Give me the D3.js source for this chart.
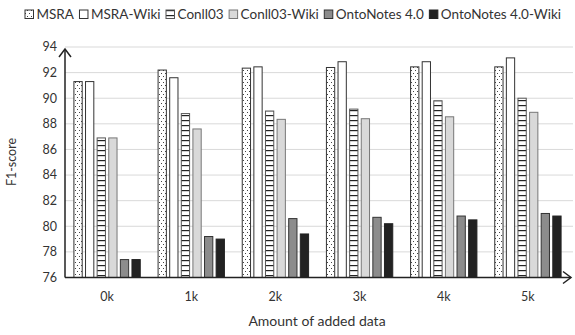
<!DOCTYPE html>
<html><head><meta charset="utf-8">
<script src="https://cdn.jsdelivr.net/npm/d3@7"></script>
<style>body{margin:0;background:#fff}</style>
</head><body><svg id="c" width="575" height="335"></svg>
<script>
const categories = ["0k","1k","2k","3k","4k","5k"];
const seriesNames = ["MSRA","MSRA-Wiki","Conll03","Conll03-Wiki","OntoNotes 4.0","OntoNotes 4.0-Wiki"];
const msra      = [91.3, 92.2, 92.35, 92.4, 92.45, 92.45];
const msraWiki  = [91.3, 91.6, 92.45, 92.85, 92.85, 93.15];
const conll     = [86.9, 88.8, 89.0, 89.15, 89.8, 90.0];
const conllWiki = [86.9, 87.6, 88.35, 88.4, 88.55, 88.9];
const onto      = [77.4, 79.2, 80.6, 80.7, 80.8, 81.0];
const ontoWiki  = [77.4, 79.0, 79.4, 80.2, 80.5, 80.8];
const yTicks = [76,78,80,82,84,86,88,90,92,94];
const seriesValues = [msra, msraWiki, conll, conllWiki, onto, ontoWiki];

const font = "Lato, 'Liberation Sans', Arial, sans-serif";
const svg = d3.select("#c");
const defs = svg.append("defs");
// dotted pattern
const pd = defs.append("pattern").attr("id","dots").attr("patternUnits","userSpaceOnUse").attr("width",4).attr("height",6);
pd.append("rect").attr("width",4).attr("height",6).attr("fill","#fff");
pd.append("rect").attr("x",1).attr("y",1).attr("width",1).attr("height",1).attr("fill","#444");
pd.append("rect").attr("x",3).attr("y",4).attr("width",1).attr("height",1).attr("fill","#444");
// horizontal stripes
const ps = defs.append("pattern").attr("id","hstripe").attr("patternUnits","userSpaceOnUse").attr("width",6).attr("height",5);
ps.append("rect").attr("width",6).attr("height",5).attr("fill","#fff");
ps.append("rect").attr("y",0).attr("width",6).attr("height",1.2).attr("fill","#222");

const fills = ["url(#dots)","#fff","url(#hstripe)","#d9d9d9","#8c8c8c","#222"];
const strokes = ["#333","#333","#555","#777","#333","#222"];

const x0 = d3.scaleBand().domain(categories).range([65,570]).paddingInner(0.2).paddingOuter(0.1);
const x1 = d3.scaleBand().domain(seriesNames).range([0,x0.bandwidth()]).paddingInner(0.2);
const y = d3.scaleLinear().domain([76,94]).range([277.5,47]);

// gridlines
svg.append("g").selectAll("line").data(yTicks.slice(1)).join("line")
  .attr("x1",65).attr("x2",573).attr("y1",d=>y(d)).attr("y2",d=>y(d))
  .attr("stroke","#d9d9d9").attr("stroke-width",1);

// y tick labels
svg.append("g").selectAll("text").data(yTicks).join("text")
  .attr("x",57).attr("y",d=>y(d)).attr("dy","0.35em").attr("text-anchor","end")
  .attr("font-family",font).attr("font-size",12.5).attr("fill","#333").text(d=>d);

// bars
const g = svg.append("g");
categories.forEach((c,ci)=>{
  seriesNames.forEach((s,si)=>{
    const v = seriesValues[si][ci];
    g.append("rect").attr("x",x0(c)+x1(s)+0.5).attr("y",y(v))
     .attr("width",x1.bandwidth()-1).attr("height",y(76)-y(v))
     .attr("fill",fills[si]).attr("stroke",strokes[si]).attr("stroke-width",1);
  });
});

// axes
svg.append("line").attr("x1",65).attr("x2",65).attr("y1",277.5).attr("y2",49).attr("stroke","#222").attr("stroke-width",1.5);
svg.append("path").attr("d","M59,57 L65,49 L71,57").attr("fill","none").attr("stroke","#222").attr("stroke-width",1.5);
svg.append("line").attr("x1",65).attr("x2",571).attr("y1",277.5).attr("y2",277.5).attr("stroke","#222").attr("stroke-width",1.5);
svg.append("path").attr("d","M563,271.5 L571,277.5 L563,283.5").attr("fill","none").attr("stroke","#222").attr("stroke-width",1.5);

// x tick labels
svg.append("g").selectAll("text").data(categories).join("text")
  .attr("x",d=>x0(d)+x0.bandwidth()/2).attr("y",301).attr("text-anchor","middle")
  .attr("font-family",font).attr("font-size",12.5).attr("fill","#333").text(d=>d);

// axis titles
svg.append("text").attr("x",317).attr("y",326).attr("text-anchor","middle")
  .attr("font-family",font).attr("font-size",14).attr("fill","#333").text("Amount of added data");
svg.append("text").attr("transform","translate(16,162) rotate(-90)").attr("text-anchor","middle")
  .attr("font-family",font).attr("font-size",12.5).attr("fill","#333").text("F1-score");

// legend
const leg = svg.append("g");
const items = seriesNames.map((s,i)=>{
  const r = leg.append("rect").attr("y",10).attr("width",8.5).attr("height",8.5)
    .attr("fill",fills[i]).attr("stroke",strokes[i]).attr("stroke-width",1);
  const t = leg.append("text").attr("y",14.5).attr("dy","0.35em")
    .attr("font-family",font).attr("font-size",13.5).attr("fill","#333").text(s);
  return {r,t,w:t.node().getComputedTextLength()};
});
const legStart = 25, legEnd = 561;
const fixed = items.reduce((a,it)=>a+8.5+3+it.w,0);
const gap = (legEnd-legStart-fixed)/(items.length-1);
let lx = legStart;
items.forEach(it=>{
  it.r.attr("x",lx);
  it.t.attr("x",lx+11.5);
  lx += 11.5 + it.w + gap;
});
</script></body></html>
